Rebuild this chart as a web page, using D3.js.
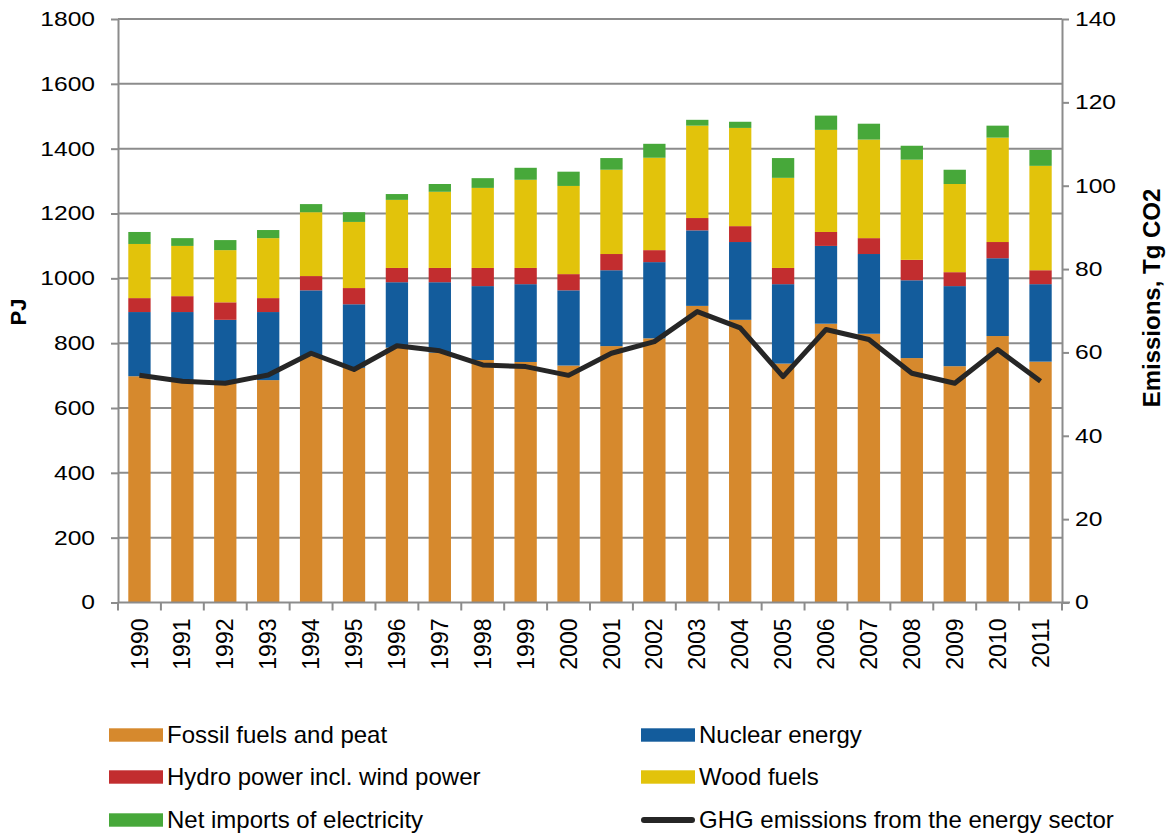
<!DOCTYPE html>
<html>
<head>
<meta charset="utf-8">
<script src="https://cdn.jsdelivr.net/npm/d3@7/dist/d3.min.js"></script>
<style>
  body { margin: 0; background: #fff; }
  text { font-family: "Liberation Sans", Arial, sans-serif; fill: #000; }
</style>
</head>
<body>
<div id="chart"></div>
<script>
// ---- data (PJ per source) ----
var years = ["1990","1991","1992","1993","1994","1995","1996","1997","1998","1999","2000",
             "2001","2002","2003","2004","2005","2006","2007","2008","2009","2010","2011"];
var fossil  = [698,685,678,686,760,724,786,771,748,742,731,791,815,915,872,737,860,829,754,729,822,743];
var nuclear = [198,211,194,210,203,196,202,217,228,240,232,234,235,233,240,245,240,246,240,247,240,239];
var hydro   = [43,49,54,43,44,50,44,44,56,50,50,50,37,38,49,50,43,49,63,43,50,43];
var wood    = [167,155,161,185,197,204,210,235,247,272,272,260,285,285,303,278,315,304,309,272,322,322];
var imports = [37,24,31,25,25,30,18,24,30,37,44,36,43,18,19,61,44,49,43,44,37,49];
// GHG emissions, Tg CO2 (right axis)
var emissions = [54.5,53.1,52.6,54.6,59.8,55.9,61.6,60.4,57.0,56.6,54.5,59.8,62.6,69.8,65.9,54.2,65.5,63.1,55.0,52.6,60.7,53.1];

var leftTicks = [0,200,400,600,800,1000,1200,1400,1600,1800];
var rightTicks = [0,20,40,60,80,100,120,140];

var seriesKeys = ["fossil","nuclear","hydro","wood","imports"];
var seriesLabels = ["Fossil fuels and peat","Nuclear energy","Hydro power incl. wind power","Wood fuels","Net imports of electricity"];
var seriesColors = ["#D6892D","#135C9C","#C22D2F","#E2C30B","#47A83A"];

// ---- frame ----
var W = 1167, H = 833;
var L = 118, R = 1062, T = 19, B = 602.5;
var GRID = "#8c8c8c";

var svg = d3.select("#chart").append("svg").attr("width", W).attr("height", H);

// the original's value labels are drawn wider than plain Arial
function stretch(sel, k) {
  sel.each(function () {
    var w = this.getComputedTextLength();
    d3.select(this).attr("textLength", w * k).attr("lengthAdjust", "spacingAndGlyphs");
  });
}

var rows = years.map(function (y, i) {
  return { year: y, fossil: fossil[i], nuclear: nuclear[i], hydro: hydro[i], wood: wood[i], imports: imports[i] };
});
var stacked = d3.stack().keys(seriesKeys)(rows);

var x = d3.scaleBand().domain(years).range([L, R]).paddingInner(0.48).paddingOuter(0.24);
var yL = d3.scaleLinear().domain([0, 1800]).range([B, T]);
var yR = d3.scaleLinear().domain([0, 140]).range([B, T]);

// gridlines
svg.append("g").selectAll("line").data(leftTicks.filter(function (d) { return d > 0; })).enter()
  .append("line")
  .attr("x1", L).attr("x2", R)
  .attr("y1", function (d) { return yL(d); }).attr("y2", function (d) { return yL(d); })
  .attr("stroke", GRID).attr("stroke-width", 2);

// stacked bars
svg.append("g").selectAll("g").data(stacked).enter().append("g")
  .attr("fill", function (d, i) { return seriesColors[i]; })
  .selectAll("rect").data(function (d) { return d; }).enter().append("rect")
  .attr("x", function (d) { return x(d.data.year); })
  .attr("width", x.bandwidth())
  .attr("y", function (d) { return yL(d[1]); })
  .attr("height", function (d) { return yL(d[0]) - yL(d[1]); });

// emissions line
var line = d3.line()
  .x(function (d, i) { return x(years[i]) + x.bandwidth() / 2; })
  .y(function (d) { return yR(d); });
svg.append("path").datum(emissions)
  .attr("fill", "none").attr("stroke", "#262626").attr("stroke-width", 5)
  .attr("stroke-linejoin", "round").attr("stroke-linecap", "butt")
  .attr("d", line);

// ---- axes ----
function styleAxis(g) {
  g.selectAll(".domain").attr("stroke", GRID).attr("stroke-width", 2);
  g.selectAll(".tick line").attr("stroke", GRID).attr("stroke-width", 2);
  g.selectAll(".tick text").attr("font-size", 20).attr("fill", "#000")
    .style("font-family", "'Liberation Sans', Arial, sans-serif");
}

var axL = svg.append("g").attr("transform", "translate(" + L + ",0)")
  .call(d3.axisLeft(yL).tickValues(leftTicks).tickFormat(d3.format("d"))
    .tickSize(7).tickPadding(16).tickSizeOuter(0))
  .call(styleAxis);
stretch(axL.selectAll(".tick text"), 1.23);

var axR = svg.append("g").attr("transform", "translate(" + R + ",0)")
  .call(d3.axisRight(yR).tickValues(rightTicks).tickFormat(d3.format("d"))
    .tickSize(7).tickPadding(6).tickSizeOuter(0))
  .call(styleAxis);
stretch(axR.selectAll(".tick text"), 1.23);

// x axis: line + ticks at category boundaries
var xg = svg.append("g").attr("transform", "translate(0," + B + ")");
xg.append("line").attr("x1", L).attr("x2", R + 8).attr("stroke", GRID).attr("stroke-width", 2);
xg.selectAll("line.tk").data(d3.range(years.length + 1)).enter().append("line")
  .attr("class", "tk")
  .attr("x1", function (i) { return L + i * x.step(); })
  .attr("x2", function (i) { return L + i * x.step(); })
  .attr("y1", 0).attr("y2", 8)
  .attr("stroke", GRID).attr("stroke-width", 2);
xg.selectAll("text").data(years).enter().append("text")
  .attr("transform", function (d) {
    return "translate(" + (x(d) + x.bandwidth() / 2) + ",16) rotate(-90)";
  })
  .attr("text-anchor", "end").attr("dy", "0.35em")
  .attr("font-size", 23)
  .text(function (d) { return d; });

// axis titles
svg.append("text").attr("transform", "translate(18,312) rotate(-90)")
  .attr("text-anchor", "middle").attr("dy", "0.35em")
  .attr("font-size", 22).attr("font-weight", "bold")
  .text("PJ");
svg.append("text").attr("transform", "translate(1152,298) rotate(-90)")
  .attr("text-anchor", "middle").attr("dy", "0.35em")
  .attr("font-size", 24).attr("font-weight", "bold")
  .text("Emissions, Tg CO2");

// ---- legend ----
var legendItems = [
  { label: seriesLabels[0], color: seriesColors[0], type: "box", col: 0, row: 0 },
  { label: seriesLabels[1], color: seriesColors[1], type: "box", col: 1, row: 0 },
  { label: seriesLabels[2], color: seriesColors[2], type: "box", col: 0, row: 1 },
  { label: seriesLabels[3], color: seriesColors[3], type: "box", col: 1, row: 1 },
  { label: seriesLabels[4], color: seriesColors[4], type: "box", col: 0, row: 2 },
  { label: "GHG emissions from the energy sector", color: "#262626", type: "line", col: 1, row: 2 }
];
var colX = [109, 641], rowY = [735, 777, 820];
var lg = svg.append("g").selectAll("g").data(legendItems).enter().append("g")
  .attr("transform", function (d) { return "translate(" + colX[d.col] + "," + rowY[d.row] + ")"; });
lg.each(function (d) {
  var g = d3.select(this);
  if (d.type === "box") {
    g.append("rect").attr("x", 0).attr("y", -6.7).attr("width", 54).attr("height", 13.4).attr("fill", d.color);
  } else {
    g.append("line").attr("x1", 3).attr("x2", 51).attr("y1", 0).attr("y2", 0)
      .attr("stroke", d.color).attr("stroke-width", 6).attr("stroke-linecap", "round");
  }
  g.append("text").attr("x", 58).attr("y", 0).attr("dy", "0.35em")
    .attr("font-size", 24)
    .text(d.label);
});
</script>
</body>
</html>
